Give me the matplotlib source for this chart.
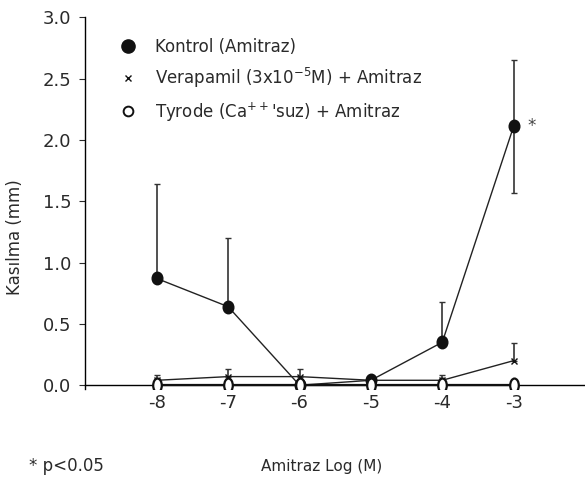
import matplotlib
matplotlib.use("Agg")
import matplotlib.pyplot as plt
import numpy as np
from matplotlib.path import Path
from matplotlib.transforms import Affine2D

plt.rcParams['font.family'] = ['DejaVu Sans']
plt.rcParams['mathtext.fontset'] = 'dejavusans'

doses = [-8, -7, -6, -5, -4, -3]
kontrol = [0.87, 0.64, 0.0, 0.04, 0.35, 2.11]
kontrol_err_low = [0.0, 0.0, 0.0, 0.0, 0.0, 0.54]
kontrol_err_up = [0.77, 0.56, 0.0, 0.0, 0.33, 0.54]
verapamil = [0.04, 0.07, 0.07, 0.04, 0.04, 0.20]
verapamil_err_up = [0.04, 0.06, 0.06, 0.0, 0.04, 0.14]
tyrode = [0.0, 0.0, 0.0, 0.0, 0.0, 0.0]

labels = ["Kontrol (Amitraz)",
          "Verapamil (3x10$^{\\mathregular{-5}}$M) + Amitraz",
          "Tyrode (Ca$^{\\mathregular{++}}$'suz) + Amitraz"]
yticks = [0.0, 0.5, 1.0, 1.5, 2.0, 2.5, 3.0]
TXT = '#2a2a2a'

fig = plt.figure(figsize=(5.85, 4.91), dpi=100)
ax = fig.add_axes([0.146, 0.208, 0.854, 0.757])

ell = Path.unit_circle().transformed(Affine2D().scale(0.62, 1.0))
ell2 = Path.unit_circle().transformed(Affine2D().scale(0.85, 1.0))

ax.errorbar(doses, kontrol, yerr=[kontrol_err_low, kontrol_err_up], fmt='none',
            ecolor='#333333', elinewidth=1.2, capsize=2, capthick=1, zorder=2)
ax.errorbar(doses, verapamil, yerr=[[0]*6, verapamil_err_up], fmt='none',
            ecolor='#333333', elinewidth=1.2, capsize=2, capthick=1, zorder=2)

ax.plot(doses, kontrol, '-', color='#222222', lw=1, zorder=3)
ax.plot(doses, kontrol, linestyle='none', color='#111111', ms=9, zorder=4, marker=ell2)
ax.plot(doses, verapamil, '-', color='#222222', lw=1, zorder=3)
ax.plot(doses, verapamil, 'x', color='#111111', ms=4, mew=1, zorder=4)
ax.plot(doses, tyrode, '-', color='#111111', lw=1.6, zorder=3)
ax.plot(doses, tyrode, linestyle='none', marker=ell, ms=10, mfc='white',
        mec='#111111', mew=1.6, zorder=5)

ax.text(-2.8, kontrol[5], '*', fontsize=12, color='#444444', ha='left', va='center')

# legend
h1, = ax.plot([], [], 'o', color='#111111', ms=9.5)
h2, = ax.plot([], [], 'x', color='#111111', ms=4.5, mew=1)
h3, = ax.plot([], [], 'o', mfc='white', mec='#111111', mew=1.4, ms=7)
ax.legend([h1, h2, h3], labels, loc='upper left', bbox_to_anchor=(0.045, 0.975),
          frameon=False, fontsize=12, handlelength=1.0, handletextpad=1.1,
          labelspacing=0.6, borderaxespad=0.3, labelcolor=TXT)

ax.set_xlim(-9, -2)
ax.set_ylim(-0.03, 3.0)
ax.set_yticks(yticks)
ax.set_yticklabels([f"{v:.1f}" for v in yticks])
ax.set_xticks(doses)
ax.set_xticklabels([str(d) for d in doses])
ax.spines['top'].set_visible(False)
ax.spines['right'].set_visible(False)
ax.spines['bottom'].set_position(('data', 0))
ax.spines['bottom'].set_linewidth(1.0)
ax.spines['left'].set_linewidth(1.0)
ax.tick_params(axis='y', direction='out', length=4, labelsize=13, colors=TXT, pad=6)
ax.tick_params(axis='x', length=0, labelsize=13, colors=TXT, pad=6)

fig.text(0.026, 0.517, 'Kasılma (mm)', rotation=90, ha='center', va='center',
         fontsize=12, color=TXT)
fig.text(0.55, 0.05, 'Amitraz Log (M)', ha='center', va='center', fontsize=11,
         color=TXT)
fig.text(0.05, 0.05, '* p<0.05', ha='left', va='center', fontsize=12,
         color=TXT)

fig.savefig('out.png', dpi=100)
